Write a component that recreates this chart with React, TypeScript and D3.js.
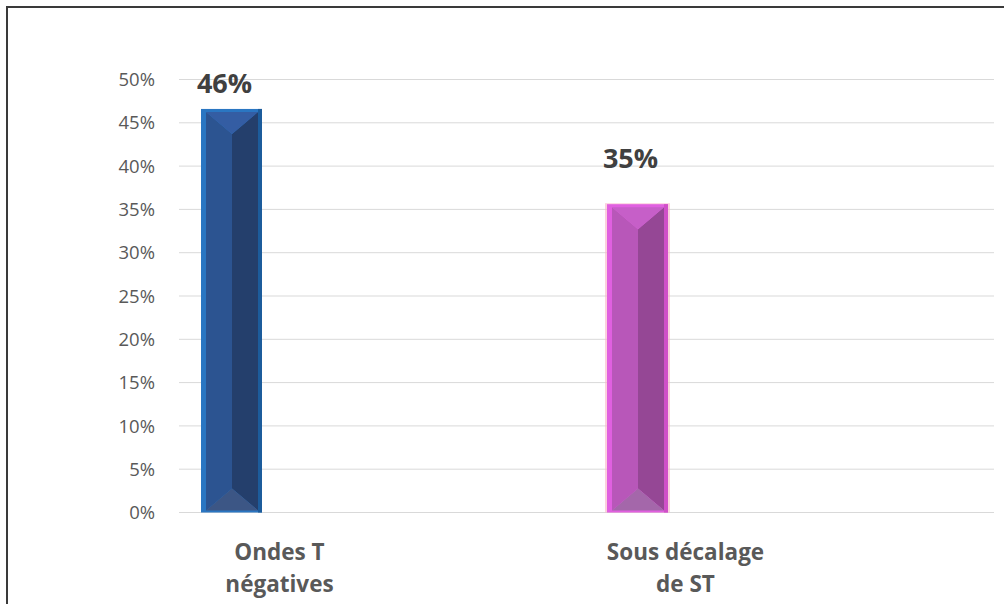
import React from "react";
import * as d3 from "d3";

const categories = ["Ondes T négatives", "Sous décalage de ST"];
const categoryLines = [["Ondes T", "négatives"], ["Sous décalage", "de ST"]];
const values = [0.466, 0.356];
const valueLabels = ["46%", "35%"];
const yTicks = [0, 0.05, 0.1, 0.15, 0.2, 0.25, 0.3, 0.35, 0.4, 0.45, 0.5];

const W = 1004;
const H = 604;
const plot = { left: 179, right: 994, top: 79.5, bottom: 512.5 };
const barWidth = 61;
const labelShift = 48;
const labelLift = [16, 36];

const palettes = [
  { edge: "#2A76C2", edgeDark: "#1C5C9C", left: "#2C5491", right: "#243F6C", top: "#345DA3", bottom: "#3C5685", glow: "none" },
  { edge: "#E060E0", edgeDark: "#D050C8", left: "#B857B9", right: "#954795", top: "#C65FC8", bottom: "#A467AA", glow: "#F8B0C8" },
];

export default function App() {
  const y = d3.scaleLinear().domain([0, 0.5]).range([plot.bottom, plot.top]);
  const x = d3.scalePoint<string>().domain(categories).range([231.5, 637.5]);
  const fmt = d3.format(".0%");
  const font = "'Open Sans', 'DejaVu Sans', sans-serif";

  return (
    <svg width={W} height={H} style={{ position: "absolute", left: 0, top: 0, background: "#fff" }}>
      <rect x={0} y={0} width={W} height={H} fill="#fff" />
      <path d={`M7,${H + 5} V7 H${W + 5}`} fill="none" stroke="#3a3a3a" strokeWidth={2} />
      {yTicks.map((t) => (
        <g key={t}>
          <line x1={plot.left} x2={plot.right} y1={y(t)} y2={y(t)} stroke="#D9D9D9" strokeWidth={1} />
          <text x={155} y={y(t)} dy="0.36em" textAnchor="end" fontFamily={font} fontSize={18.5} fill="#595959">
            {fmt(t)}
          </text>
        </g>
      ))}
      {categories.map((c, i) => {
        const cx = x(c) as number;
        const x0 = cx - barWidth / 2;
        const x1 = cx + barWidth / 2;
        const y0 = y(values[i]);
        const y1 = y(0);
        const p = palettes[i];
        const il = x0 + 5;
        const ir = x1 - 4;
        const it = y0 + 3;
        const ib = y1 - 2;
        const mid = (il + ir) / 2;
        const d = 22;
        return (
          <g key={c}>
            {p.glow !== "none" && (
              <rect x={x0 - 2} y={y0 - 1} width={barWidth + 4} height={y1 - y0 + 1} fill={p.glow} opacity={0.6} />
            )}
            <rect x={x0} y={y0} width={barWidth} height={y1 - y0} fill={p.edge} />
            <rect x={ir} y={y0} width={x1 - ir} height={y1 - y0} fill={p.edgeDark} />
            <polygon points={`${il},${it} ${mid},${it + d} ${mid},${ib - d} ${il},${ib}`} fill={p.left} />
            <polygon points={`${ir},${it} ${mid},${it + d} ${mid},${ib - d} ${ir},${ib}`} fill={p.right} />
            <polygon points={`${il},${it} ${ir},${it} ${mid},${it + d}`} fill={p.top} />
            <polygon points={`${il},${ib} ${ir},${ib} ${mid},${ib - d}`} fill={p.bottom} />
            <text x={cx - 7} y={y0 - labelLift[i]} textAnchor="middle" fontFamily={font} fontWeight={700} fontSize={27} fill="#404040">
              {valueLabels[i]}
            </text>
            {categoryLines[i].map((ln, j) => (
              <text key={j} x={cx + labelShift} y={560 + j * 32} textAnchor="middle" fontFamily={font} fontWeight={700} fontSize={22.5} fill="#595959">
                {ln}
              </text>
            ))}
          </g>
        );
      })}
    </svg>
  );
}
